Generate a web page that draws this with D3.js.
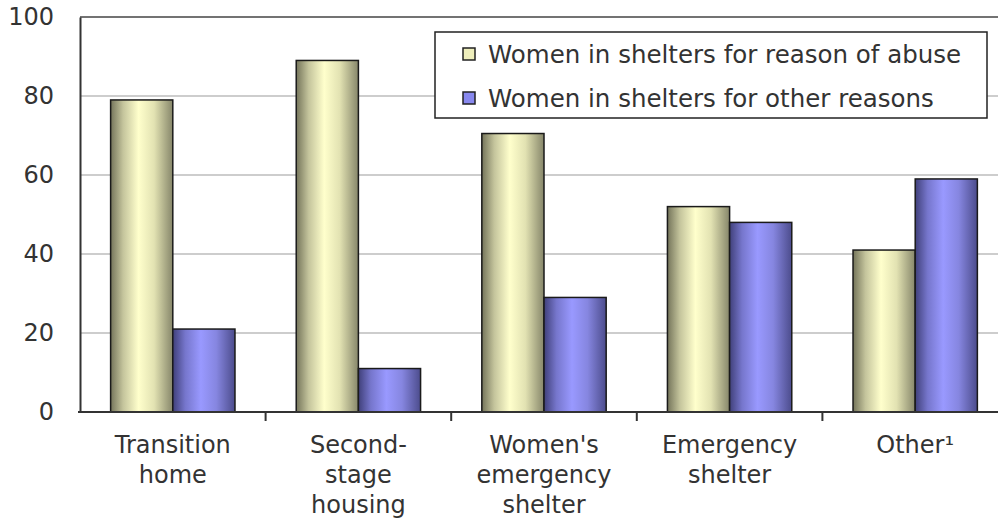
<!DOCTYPE html>
<html>
<head>
<meta charset="utf-8">
<script src="https://cdn.jsdelivr.net/npm/d3@7"></script>
<style>
  body { margin: 0; background: #fff; }
  text { font-family: "DejaVu Sans", Verdana, sans-serif; fill: #333; }
</style>
</head>
<body>
<div id="chart"></div>
<script>
// data
var categories = ["Transition home", "Second-stage housing", "Women's emergency shelter", "Emergency shelter", "Other¹"];
var categoryLines = [["Transition", "home"], ["Second-", "stage", "housing"], ["Women's", "emergency", "shelter"], ["Emergency", "shelter"], ["Other¹"]];
var seriesNames = ["Women in shelters for reason of abuse", "Women in shelters for other reasons"];
var abuse = [79, 89, 70.5, 52, 41];
var other = [21, 11, 29, 48, 59];
var yTicks = [0, 20, 40, 60, 80, 100];

var W = 998, H = 518;
var margin = {top: 17, left: 80, bottom: 106};
var step = 185.6;

var svg = d3.select("#chart").append("svg")
    .attr("width", W)
    .attr("height", H);

var defs = svg.append("defs");
function grad(id, stops) {
  var g = defs.append("linearGradient").attr("id", id)
      .attr("x1", "0%").attr("x2", "100%").attr("y1", "0%").attr("y2", "0%");
  stops.forEach(function(s) {
    g.append("stop").attr("offset", s[0]).attr("stop-color", s[1]);
  });
}
grad("gAbuse", [["0%", "#74745a"], ["20%", "#c4c49c"], ["45%", "#ffffcc"], ["70%", "#e2e2b2"], ["100%", "#86866a"]]);
grad("gOther", [["0%", "#40407a"], ["20%", "#7676cc"], ["45%", "#9999ff"], ["70%", "#8686e0"], ["100%", "#4c4c8c"]]);

var x = d3.scaleBand()
    .domain(categories)
    .range([margin.left, margin.left + step * categories.length])
    .paddingInner(0.33)
    .paddingOuter(0.165);

var y = d3.scaleLinear()
    .domain([0, 100])
    .range([H - margin.bottom, margin.top]);

var xs = d3.scaleBand()
    .domain([0, 1])
    .range([0, x.bandwidth()]);

// gridlines
svg.append("g").selectAll("line")
    .data(yTicks.filter(function(d) { return d > 0 && d < 100; }))
    .enter().append("line")
    .attr("x1", margin.left).attr("x2", W)
    .attr("y1", function(d) { return y(d); })
    .attr("y2", function(d) { return y(d); })
    .attr("stroke", "#bdbdbd").attr("stroke-width", 1.5);

// top border of plot
svg.append("line")
    .attr("x1", margin.left).attr("x2", W)
    .attr("y1", y(100)).attr("y2", y(100))
    .attr("stroke", "#444").attr("stroke-width", 1.5);

// bars
var groups = svg.append("g").selectAll("g")
    .data(categories)
    .enter().append("g")
    .attr("transform", function(d) { return "translate(" + x(d) + ",0)"; });

groups.append("rect")
    .attr("x", xs(0))
    .attr("y", function(d, i) { return y(abuse[i]); })
    .attr("width", xs.bandwidth())
    .attr("height", function(d, i) { return y(0) - y(abuse[i]); })
    .attr("fill", "url(#gAbuse)")
    .attr("stroke", "#1a1a1a").attr("stroke-width", 1.5);

groups.append("rect")
    .attr("x", xs(1))
    .attr("y", function(d, i) { return y(other[i]); })
    .attr("width", xs.bandwidth())
    .attr("height", function(d, i) { return y(0) - y(other[i]); })
    .attr("fill", "url(#gOther)")
    .attr("stroke", "#1a1a1a").attr("stroke-width", 1.5);

// y axis
var yAxis = svg.append("g")
    .attr("transform", "translate(" + margin.left + ",0)")
    .call(d3.axisLeft(y).tickValues(yTicks).tickSize(0).tickPadding(26));
yAxis.select(".domain").attr("stroke", "#333").attr("stroke-width", 2);
yAxis.selectAll("text").style("font-size", "24px").attr("fill", "#333");

// x axis line + ticks between categories
svg.append("line")
    .attr("x1", margin.left - 2).attr("x2", W)
    .attr("y1", y(0)).attr("y2", y(0))
    .attr("stroke", "#333").attr("stroke-width", 2);

svg.append("g").selectAll("line")
    .data(categories.slice(1))
    .enter().append("line")
    .attr("x1", function(d) { return x(d) - x.step() * x.paddingInner() / 2; })
    .attr("x2", function(d) { return x(d) - x.step() * x.paddingInner() / 2; })
    .attr("y1", y(0)).attr("y2", y(0) + 9)
    .attr("stroke", "#333").attr("stroke-width", 2);

// category labels
var labels = svg.append("g").selectAll("text")
    .data(categories)
    .enter().append("text")
    .attr("x", function(d) { return x(d) + x.bandwidth() / 2; })
    .attr("y", 453)
    .attr("text-anchor", "middle")
    .style("font-size", "24px");
labels.each(function(d, i) {
  var t = d3.select(this);
  categoryLines[i].forEach(function(line, j) {
    t.append("tspan")
      .attr("x", x(d) + x.bandwidth() / 2)
      .attr("dy", j === 0 ? 0 : 30)
      .text(line);
  });
});

// legend
var legend = svg.append("g");
legend.append("rect")
    .attr("x", 435).attr("y", 32)
    .attr("width", 552).attr("height", 86)
    .attr("fill", "#fff")
    .attr("stroke", "#222").attr("stroke-width", 1.5);

var swatchColors = ["#eeeebb", "#8888ee"];
seriesNames.forEach(function(name, i) {
  var cy = 54 + i * 44;
  legend.append("rect")
    .attr("x", 463).attr("y", cy - 6)
    .attr("width", 12).attr("height", 12)
    .attr("fill", swatchColors[i])
    .attr("stroke", "#222").attr("stroke-width", 1.5);
  legend.append("text")
    .attr("x", 488).attr("y", cy)
    .attr("dy", "0.36em")
    .style("font-size", "24.5px")
    .text(name);
});
</script>
</body>
</html>
